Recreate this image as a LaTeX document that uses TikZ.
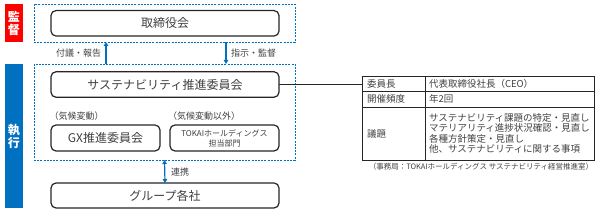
\documentclass[tikz,border=0pt]{standalone}
\usepackage{fontspec}
\setmainfont{Noto Sans CJK JP}
\usepackage{tikz}
\usetikzlibrary{positioning}
\usetikzlibrary{arrows.meta}
\definecolor{kanblue}{RGB}{0,112,192}
\definecolor{kanred}{RGB}{255,0,0}
\definecolor{inkgray}{RGB}{64,64,64}

\begin{document}
\begin{tikzpicture}[
x=1pt, y=-1pt,
every node/.style={inner sep=0, outer sep=0, text=inkgray},
body/.style={draw=black!85, fill=white, rounded corners=5pt, line width=1.2pt, align=center, font=\fontsize{12}{14}\selectfont},
zone/.style={draw=kanblue, line width=0.9pt, dash pattern=on 2pt off 1.2pt},
bar/.style={minimum width=18pt, text=white, align=center, font=\bfseries\fontsize{12}{13}\selectfont},
tag/.style={font=\fontsize{9}{10}\selectfont},
cell/.style={draw=black!85, line width=0.8pt, anchor=north west, inner xsep=5pt, align=left, font=\fontsize{9.5}{10.4}\selectfont},
every path/.style={line width=1.2pt},
>={Triangle[length=4pt,width=4.5pt]}
]
\useasboundingbox (0,0) rectangle (605,213);

% supervision / execution zones
\node[zone, minimum width=261pt, minimum height=38pt, anchor=north west] (top) at (34,4) {};
\node[zone, minimum width=261pt, minimum height=96pt, anchor=north west] (exec) at (34,64) {};
\node[bar, fill=kanred, minimum height=38pt] (kansa) at (14,23) {監\\督};
\node[bar, fill=kanblue, minimum height=144pt] (shikko) at (14,136) {執\\行};

% boxes
\node[body, minimum width=228pt, minimum height=25.5pt] (board) at (165,23.3) {取締役会};
\node[body, minimum width=228pt, minimum height=25.5pt] (scc) at (165,84.5) {サステナビリティ推進委員会};
\node[body, minimum width=109pt, minimum height=26pt] (gx) at (105.5,138) {GX推進委員会};
\node[body, minimum width=109pt, minimum height=26pt, font=\fontsize{8}{10}\selectfont] (tokai) at (224.5,138) {TOKAIホールディングス\\担当部門};
\node[body, minimum width=228pt, minimum height=25pt] (group) at (165,195.5) {グループ各社};
\node[tag, above right=4.5pt and -1.5pt of gx.north west] (climate) {（気候変動）};
\node[tag, above right=4.5pt and -2pt of tokai.north west] (other) {（気候変動以外）};

% arrows
\coordinate (upx) at (106,53);
\coordinate (downx) at (226,53);
\coordinate (linkx) at (165,172);
\draw[kanblue, ->] (upx |- exec.north) to (upx |- top.south);
\draw[kanblue, ->] (downx |- top.south) to (downx |- exec.north);
\draw[kanblue, <->] (exec.south) to (group.north);
\node[tag, left=5pt of upx] (report) {付議・報告};
\node[tag, right=5pt of downx] (order) {指示・監督};
\node[tag, right=6pt of linkx] (renkei) {連携};

% table
\node[cell, minimum width=63pt, minimum height=15pt, text width=53pt] (k1) at (362,76) {委員長};
\node[cell, minimum width=169pt, minimum height=15pt, text width=161pt, inner xsep=4pt] (v1) at (425,76) {代表取締役社長（CEO）};
\node[cell, minimum width=63pt, minimum height=16pt, text width=53pt] (k2) at (362,91) {開催頻度};
\node[cell, minimum width=169pt, minimum height=16pt, text width=161pt, inner xsep=4pt] (v2) at (425,91) {年2回};
\node[cell, minimum width=63pt, minimum height=53pt, text width=53pt] (k3) at (362,107) {議題};
\node[cell, minimum width=169pt, minimum height=53pt, text width=161pt, inner xsep=4pt] (v3) at (425,107) {サステナビリティ課題の特定・見直し\\マテリアリティ進捗状況確認・見直し\\各種方針策定・見直し\\他、サステナビリティに関する事項};
\node[font=\fontsize{7.5}{8}\selectfont, anchor=north] (office) at (481,163) {（事務局：TOKAIホールディングス サステナビリティ経営推進室）};
\draw[black!85] (scc.east) to (scc.east -| k1.west);
\end{tikzpicture}
\end{document}
